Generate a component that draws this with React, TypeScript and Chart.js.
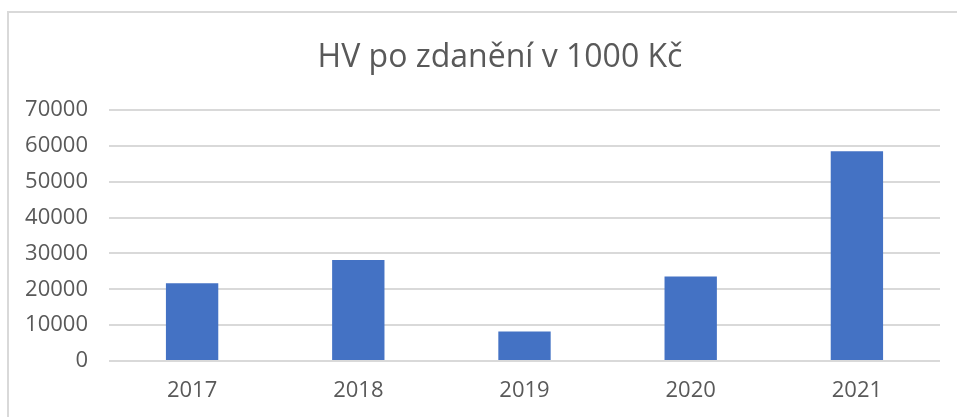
import React, { useEffect, useRef } from "react";
import { Chart, registerables } from "chart.js";

Chart.register(...registerables);

const categories = ["2017", "2018", "2019", "2020", "2021"];
const values = [21700, 28200, 8200, 23600, 58500];
const yMax = 70000;
const yStep = 10000;
const titleText = "HV po zdanění v 1000 Kč";

const FONT = "'Open Sans', 'Noto Sans', sans-serif";
const TEXT = "#595959";
const GRID = "#D9D9D9";
const BAR = "#4472C4";

const decor = {
  id: "decor",
  beforeDraw(chart: any) {
    const ctx = chart.ctx;
    ctx.save();
    ctx.fillStyle = "#ffffff";
    ctx.fillRect(0, 0, chart.width, chart.height);
    ctx.strokeStyle = GRID;
    ctx.lineWidth = 2;
    ctx.beginPath();
    ctx.moveTo(8, chart.height + 5);
    ctx.lineTo(8, 12);
    ctx.lineTo(chart.width + 5, 12);
    ctx.stroke();
    ctx.restore();
  },
  afterDraw(chart: any) {
    const ctx = chart.ctx;
    ctx.save();
    ctx.fillStyle = TEXT;
    ctx.font = `32px ${FONT}`;
    ctx.textAlign = "center";
    ctx.textBaseline = "alphabetic";
    ctx.fillText(titleText, 500, 67);
    ctx.restore();
  },
};

export default function App() {
  const ref = useRef<HTMLCanvasElement>(null);
  useEffect(() => {
    document.body.style.margin = "0";
    const chart = new Chart(ref.current!, {
      type: "bar",
      data: {
        labels: categories,
        datasets: [
          {
            data: values,
            backgroundColor: BAR,
            categoryPercentage: 1,
            barPercentage: 0.315,
          },
        ],
      },
      options: {
        animation: false,
        responsive: false,
        layout: { padding: { left: 0, right: 17, top: 110, bottom: 0 } },
        plugins: { legend: { display: false }, tooltip: { enabled: false }, title: { display: false } },
        scales: {
          x: {
            grid: { display: false, drawTicks: false },
            border: { display: false },
            ticks: { color: TEXT, font: { family: FONT, size: 22 }, padding: 17 },
            afterFit: (s: any) => {
              s.height = 56;
            },
          },
          y: {
            min: 0,
            max: yMax,
            grid: { color: GRID, lineWidth: 2, drawTicks: false },
            border: { display: false },
            ticks: {
              stepSize: yStep,
              color: TEXT,
              font: { family: FONT, size: 22 },
              padding: 21,
              callback: (v: any) => String(v),
            },
            afterFit: (s: any) => {
              s.width = 109;
            },
          },
        },
      },
      plugins: [decor],
    });
    return () => chart.destroy();
  }, []);
  return (
    <div style={{ position: "fixed", left: 0, top: 0, width: 957, height: 417 }}>
      <canvas ref={ref} width={957} height={417} style={{ width: 957, height: 417 }} />
    </div>
  );
}
